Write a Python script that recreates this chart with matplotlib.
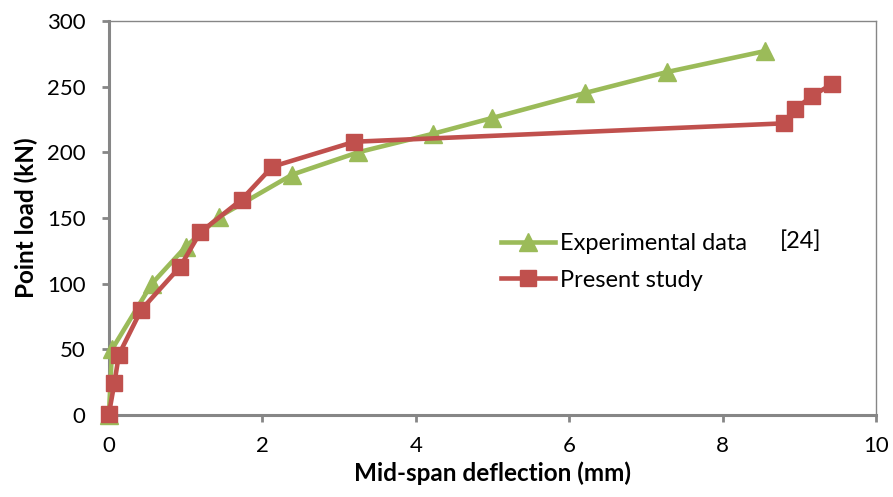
import matplotlib
matplotlib.use("Agg")
import matplotlib.pyplot as plt

plt.rcParams['font.family'] = ['Lato', 'DejaVu Sans']

# 试验数据 [24]
exp_x = [0.0, 0.04, 0.56, 1.0, 1.44, 2.39, 3.25, 4.22, 4.99, 6.2, 7.27, 8.55]
exp_y = [0, 50, 100, 128, 151, 183, 200, 214, 226, 245, 261, 277]
# 本文计算结果
num_x = [0.0, 0.07, 0.13, 0.42, 0.93, 1.19, 1.73, 2.13, 3.2, 8.8, 8.95, 9.17, 9.43]
num_y = [1, 24, 46, 80, 113, 139, 164, 189, 208, 222, 233, 243, 252]

green = '#9BBB59'
red = '#C0504D'
gray = '#868686'

fig = plt.figure(figsize=(8.93, 4.97), dpi=100)
ax = fig.add_axes([0.122, 0.165, 0.859, 0.793])

ax.plot(exp_x, exp_y, '-^', color=green, lw=3.3, ms=13, label='Experimental data', clip_on=False, zorder=3)
ax.plot(num_x, num_y, '-s', color=red, lw=3.3, ms=12, label='Present study', clip_on=False, zorder=4)

ax.set_xlim(0, 10)
ax.set_ylim(0, 300)
ax.set_xticks(range(0, 11, 2))
ax.set_yticks(range(0, 301, 50))

for s in ['left', 'bottom']:
    ax.spines[s].set_color(gray)
    ax.spines[s].set_linewidth(2.2)
for s in ['top', 'right']:
    ax.spines[s].set_color(gray)
    ax.spines[s].set_linewidth(1.0)
ax.tick_params(direction='out', length=5, width=2, color=gray, labelsize=16)
ax.tick_params(axis='y', pad=12)
ax.tick_params(axis='x', pad=10)

ax.set_xlabel('Mid-span deflection (mm)', fontsize=17.5, fontweight='bold', labelpad=4)
ax.set_ylabel('Point load (kN)', fontsize=17.5, fontweight='bold', labelpad=6)

leg = ax.legend(loc='center left', bbox_to_anchor=(0.511, 0.388), frameon=False,
                fontsize=17, handlelength=2.3, handletextpad=0.2, labelspacing=0.65,
                borderpad=0, borderaxespad=0)
ax.text(0.875, 0.44, '[24]', transform=ax.transAxes, fontsize=17, ha='left', va='center')

fig.savefig('out.png', dpi=100)
